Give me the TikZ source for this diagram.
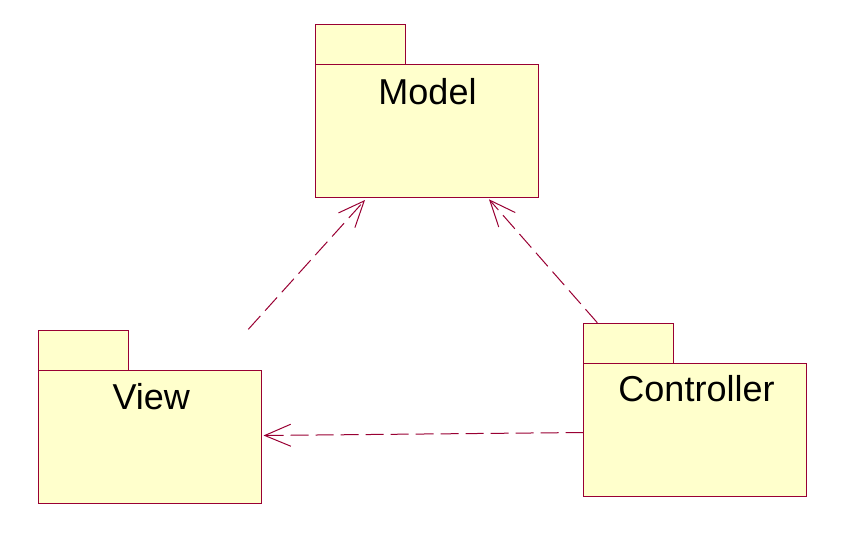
\documentclass[tikz,border=0pt]{standalone}
\usepackage{fontspec}
\setmainfont{Liberation Sans}
\usetikzlibrary{arrows.meta}
\definecolor{umlline}{HTML}{990033}
\definecolor{umlfill}{HTML}{FFFFCC}
\begin{document}
\begin{tikzpicture}[x=1pt,y=-1pt,
  pkgbody/.style={draw=umlline, fill=umlfill, line width=1pt, minimum width=223pt, minimum height=133pt, inner sep=0pt, outer sep=0pt, anchor=north west},
  pkgtab/.style={draw=umlline, fill=umlfill, line width=1pt, minimum width=90pt, minimum height=40pt, inner sep=0pt, outer sep=0pt, anchor=south west},
  pkglabel/.style={anchor=base, font=\fontsize{36}{40}\selectfont, inner sep=0pt},
  dep/.style={draw=umlline, line width=1pt, dash pattern=on 18pt off 7pt, -{Straight Barb[length=26pt,width=22pt]}}]
\useasboundingbox (0,0) rectangle (850,532);

% Model
\node[pkgbody] (model) at (315.5,64.5) {};
\node[pkgtab] (modeltab) at (model.north west) {};
\node[pkglabel] (modellabel) at (427.5,104.3) {Model};

% View
\node[pkgbody] (view) at (38.5,370.5) {};
\node[pkgtab] (viewtab) at (view.north west) {};
\node[pkglabel] (viewlabel) at (151.3,409.3) {View};

% Controller
\node[pkgbody] (ctrl) at (583.5,363.5) {};
\node[pkgtab] (ctrltab) at (ctrl.north west) {};
\node[pkglabel] (ctrllabel) at (696.5,401.7) {Controller};

% connector ends
\coordinate (v2m-s) at (248.3,329.3);
\coordinate (v2m-e) at (365,200);
\coordinate (c2m-s) at (597.3,322.7);
\coordinate (c2m-e) at (489,199.3);
\coordinate (c2v-s) at (583.5,432.5);
\coordinate (c2v-e) at (263.5,435.5);

\draw[dep] (v2m-s) -- (v2m-e);
\draw[dep] (c2m-s) -- (c2m-e);
\draw[dep] (c2v-s) -- (c2v-e);
\end{tikzpicture}
\end{document}
